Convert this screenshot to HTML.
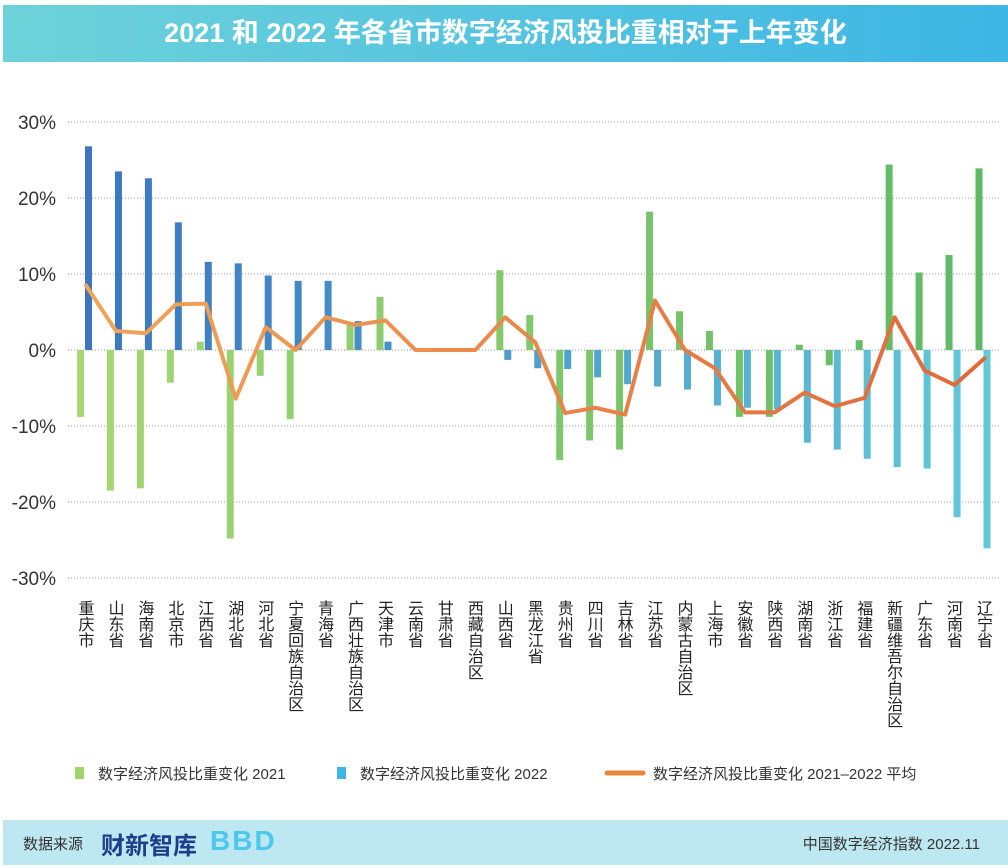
<!DOCTYPE html>
<html><head><meta charset="utf-8"><style>
body{margin:0;width:1008px;height:868px;background:#fff;font-family:"Liberation Sans","Noto Sans CJK SC",sans-serif;overflow:hidden;position:relative}
#hdr{position:absolute;left:3px;top:5px;width:1005px;height:57px;background:linear-gradient(90deg,#6dd2d9,#3db6e5);color:#fff;font-size:27px;font-weight:bold;text-align:center;line-height:57px}
#ftr{position:absolute;left:3px;top:820px;width:1005px;height:45px;background:#bde7f1;font-size:15px;color:#333}
svg{position:absolute;left:0;top:0}
</style></head><body>
<div id="hdr">2021 和 2022 年各省市数字经济风投比重相对于上年变化</div>
<div id="ftr">
<span style="position:absolute;left:20px;top:13px">数据来源</span>
<span style="position:absolute;left:98px;top:6px;font-size:24px;font-weight:bold;color:#1d3e8a">财新智库</span>
<span style="position:absolute;left:207px;top:5px;font-size:28px;font-weight:bold;color:#4cc7ee;letter-spacing:2px">BBD</span>
<span style="position:absolute;right:28px;top:13px">中国数字经济指数 2022.11</span>
</div>
<svg id="c" width="1008" height="868">
<defs>
<linearGradient id="gG" gradientUnits="userSpaceOnUse" x1="70" y1="0" x2="990" y2="0"><stop offset="0" stop-color="#a6d773"/><stop offset="1" stop-color="#5db965"/></linearGradient>
<linearGradient id="gB" gradientUnits="userSpaceOnUse" x1="70" y1="0" x2="990" y2="0"><stop offset="0" stop-color="#3a74bd"/><stop offset="1" stop-color="#62c9d9"/></linearGradient>
<linearGradient id="gL" gradientUnits="userSpaceOnUse" x1="70" y1="0" x2="990" y2="0"><stop offset="0" stop-color="#f2a65a"/><stop offset="1" stop-color="#e0683a"/></linearGradient>
</defs>
</svg>
<script>
const categories=["重庆市","山东省","海南省","北京市","江西省","湖北省","河北省","宁夏回族自治区","青海省","广西壮族自治区","天津市","云南省","甘肃省","西藏自治区","山西省","黑龙江省","贵州省","四川省","吉林省","江苏省","内蒙古自治区","上海市","安徽省","陕西省","湖南省","浙江省","福建省","新疆维吾尔自治区","广东省","河南省","辽宁省"];
const values2021=[-8.8,-18.5,-18.2,-4.3,1.1,-24.8,-3.4,-9.1,0,3.5,7.0,0,0,0,10.5,4.6,-14.5,-11.9,-13.1,18.2,5.1,2.5,-8.8,-8.8,0.7,-2.0,1.3,24.4,10.2,12.5,23.9];
const values2022=[26.8,23.5,22.6,16.8,11.6,11.4,9.8,9.1,9.1,3.8,1.1,0,0,0,-1.3,-2.4,-2.5,-3.6,-4.5,-4.8,-5.2,-7.3,-7.6,-7.8,-12.2,-13.1,-14.3,-15.4,-15.6,-22.0,-26.1];
const valuesAvg=[8.5,2.5,2.2,6.0,6.1,-6.4,3.0,0,4.3,3.3,3.9,0,0,0,4.3,1.0,-8.3,-7.6,-8.5,6.5,0,-2.4,-8.2,-8.2,-5.6,-7.4,-6.3,4.3,-2.7,-4.6,-1.1];
const yTicks=[30,20,10,0,-10,-20,-30];
const NS="http://www.w3.org/2000/svg";
const svg=document.getElementById('c');
const y=v=>350-v*7.6;
const x=i=>86+i*29.95;
function mk(t,a){const e=document.createElementNS(NS,t);for(const k in a)e.setAttribute(k,a[k]);svg.appendChild(e);return e;}
yTicks.forEach(t=>{
 const l=mk('line',{x1:68,x2:1000,y1:y(t),y2:y(t),stroke:'#999','stroke-width':1,'stroke-dasharray':'1,2'});
 
 
 const tx=mk('text',{x:56,y:y(t)+7,'text-anchor':'end','font-size':19,fill:'#333'});
 tx.textContent=t+'%';
 
 
});
categories.forEach((c,i)=>{
 const v1=values2021[i],v2=values2022[i];
 const b1=mk('rect',{x:x(i)-9,y:Math.min(y(v1),y(0)),width:7,height:Math.abs(y(v1)-y(0)),fill:'url(#gG)'});
 
 
 const b2=mk('rect',{x:x(i)-1,y:Math.min(y(v2),y(0)),width:7,height:Math.abs(y(v2)-y(0)),fill:'url(#gB)'});
 
 
 const t=mk('text',{x:x(i)-2,y:600,'font-size':16,fill:'#222','text-anchor':'start','writing-mode':'tb','glyph-orientation-vertical':0});
 t.textContent=c;
 
 
});
const line=mk('polyline',{points:valuesAvg.map((v,i)=>x(i)+','+y(v)).join(' '),fill:'none',stroke:'url(#gL)','stroke-width':4,'stroke-linejoin':'round','stroke-linecap':'round'});


const leg=[['rect',75,'#9fd46f','数字经济风投比重变化 2021',98],['rect',337,'#3db6e5','数字经济风投比重变化 2022',360],['line',607,'#e8863f','数字经济风投比重变化 2021–2022 平均',653]];
leg.forEach(L=>{
 let s;
 if(L[0]=='rect')s=mk('rect',{x:L[1],y:767,width:9,height:12,fill:L[2]});
 else s=mk('line',{x1:L[1],x2:L[1]+36,y1:773,y2:773,stroke:L[2],'stroke-width':5,'stroke-linecap':'round'});
 
 
 const t=mk('text',{x:L[4],y:779,'font-size':15,fill:'#333'});
 t.textContent=L[3];
 
 
});
</script>
</body></html>
